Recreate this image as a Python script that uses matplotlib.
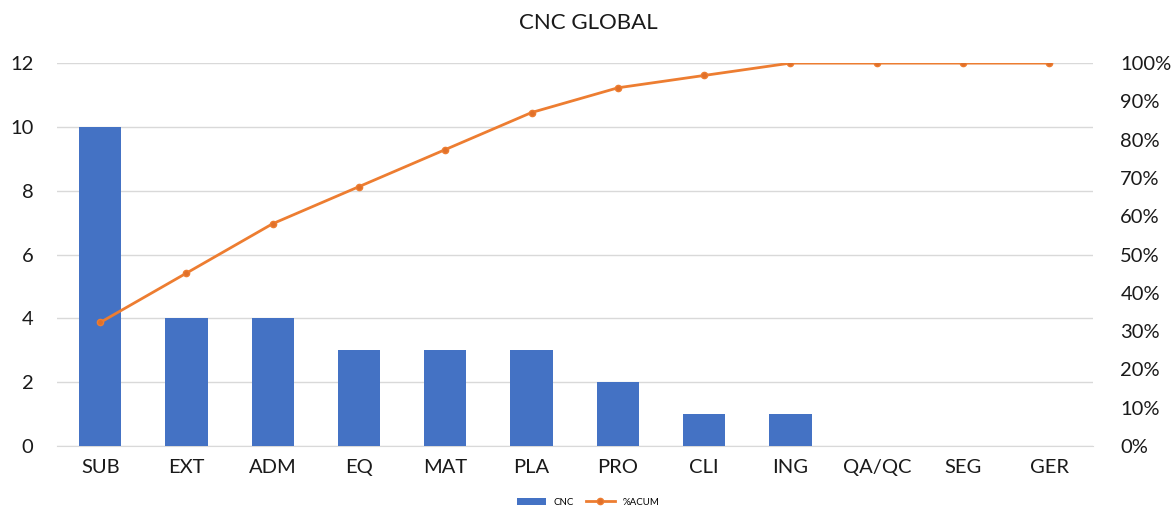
import numpy as np
import matplotlib.pyplot as plt

categories = ["SUB", "EXT", "ADM", "EQ", "MAT", "PLA", "PRO", "CLI", "ING", "QA/QC", "SEG", "GER"]
cnc = [10, 4, 4, 3, 3, 3, 2, 1, 1, 0, 0, 0]

# cumulative share
acum = np.cumsum(cnc) / np.sum(cnc)

plt.rcParams['font.family'] = ['Lato', 'DejaVu Sans']

fig = plt.figure(figsize=(11.76, 5.13), dpi=100)
ax = fig.add_axes([0.0485, 0.1306, 0.8805, 0.7464])
x = np.arange(len(categories))

bars = ax.bar(x, cnc, width=0.49, color="#4472C4", label="CNC", zorder=3)
ax.set_xlim(-0.5, len(categories) - 0.5)
ax.set_ylim(0, 12)
ax.set_yticks(range(0, 13, 2))
ax.grid(axis="y", color="#D9D9D9", linewidth=1, zorder=0)
ax.set_xticks(x)
ax.set_xticklabels(categories)
for s in ["top", "right", "left"]:
    ax.spines[s].set_visible(False)
ax.spines["bottom"].set_color("#D9D9D9")
ax.tick_params(axis="both", length=0, labelsize=14.5, colors="#1a1a1a")
ax.tick_params(axis="x", pad=9)
ax.tick_params(axis="y", pad=17)

ax2 = ax.twinx()
line, = ax2.plot(x, acum, color="#ED7D31", linewidth=2, marker="o", markersize=4.5,
                 markerfacecolor="#E0702A", label="%ACUM", zorder=4)
ax2.set_ylim(0, 1)
ax2.set_yticks(np.arange(0, 1.01, 0.1))
ax2.set_yticklabels(["%d%%" % round(v * 100) for v in np.arange(0, 1.01, 0.1)])
for s in ax2.spines.values():
    s.set_visible(False)
ax2.tick_params(axis="y", length=0, labelsize=14.5, colors="#1a1a1a", pad=20)

fig.suptitle("CNC GLOBAL", y=0.975, fontsize=16, color="#1a1a1a")
fig.legend(handles=[bars, line], loc="lower center", bbox_to_anchor=(0.5, -0.005),
           ncol=2, frameon=False, fontsize=7, handlelength=3, columnspacing=1.2)

fig.savefig("out.png", dpi=100)
